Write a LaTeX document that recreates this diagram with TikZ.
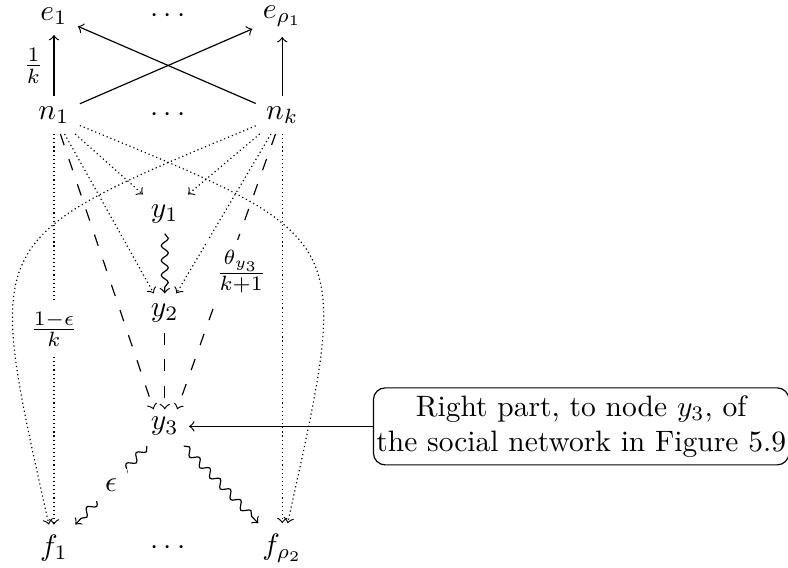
\documentclass[tikz,border=0pt]{standalone}
\usepackage{tikz}
\usetikzlibrary{positioning,calc,decorations.pathmorphing}

\begin{document}
\begin{tikzpicture}[
    on grid,
    node distance=1.18cm,
    prob/.style={->, densely dotted},
    infl/.style={->, dash pattern=on 4pt off 5pt},
    wave/.style={->, decorate, decoration={snake, amplitude=1.2pt, segment length=5pt, post length=2pt}},
    note/.style={rectangle, draw, rounded corners, align=center, inner xsep=1pt, inner ysep=2.5pt}
]

\useasboundingbox (-0.643,1.37) rectangle (8.745,-5.397);

\node (n1) {$n_1$};
\node[right=2.72cm of n1] (nk) {$n_k$};
\node (ndots) at ($(n1)!0.5!(nk)$) {$\cdots$};

\node[above=of n1] (e1) {$e_1$};
\node[above=of nk] (erho1) {$e_{\rho_1}$};
\node (edots) at ($(e1)!0.5!(erho1)$) {$\cdots$};

\node[below right=1.18cm and 1.32cm of n1] (y1) {$y_1$};
\node[below=of y1] (y2) {$y_2$};
\node[below=1.35cm of y2] (y3) {$y_3$};

\node[below=5.16cm of n1] (f1) {$f_1$};
\node[below=5.16cm of nk] (frho2) {$f_{\rho_2}$};
\node (fdots) at ($(f1)!0.5!(frho2)$) {$\cdots$};

\node[note, on grid=false, right=2.19cm of y3] (part) {Right part, to node $y_3$, of\\the social network in Figure 5.9};

% top layer
\draw[->] (n1) -- node[left] {$\frac{1}{k}$} (e1);
\draw[->] (nk) -- (erho1);
\draw[->] (n1) -- (erho1);
\draw[->] (nk) -- (e1);

% dotted edges
\draw[prob] (n1) -- (y1);
\draw[prob] (n1) -- (y2);
\draw[prob] (nk) -- (y1);
\draw[prob] (nk) -- (y2);
\draw[prob] (n1) -- node[fill=white] {$\frac{1-\epsilon}{k}$} (f1);
\draw[prob] (nk) -- (frho2);
\draw[prob] (n1) to[bend left=40, looseness=1.7] (frho2);
\draw[prob] (nk) to[bend right=40, looseness=1.7] (f1);

% dashed edges
\draw[infl] (n1) -- ([shift={(-3.8pt,5.8pt)}]y3.center);
\draw[infl] (y2) -- ([yshift=5.8pt]y3.center);
\draw[infl] (nk) -- node[fill=white, xshift=5pt] {$\frac{\theta_{y_3}}{k+1}$} ([shift={(4.2pt,5.8pt)}]y3.center);

% wavy edges
\draw[wave] (y1) -- (y2);
\draw[wave] (y3) -- node[fill=white] {$\epsilon$} (f1);
\draw[wave] (y3) -- (frho2);

\draw[->] (part) -- (y3);

\end{tikzpicture}
\end{document}
